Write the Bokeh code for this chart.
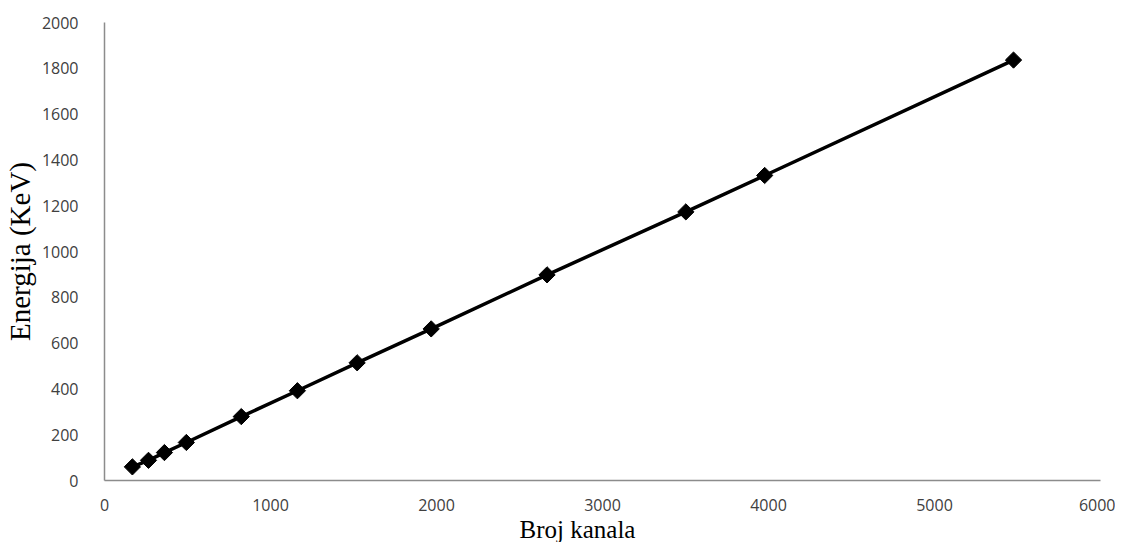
import math
from bokeh.plotting import figure
from bokeh.models import FixedTicker, Range1d, Title
from bokeh.embed import file_html
from bokeh.resources import INLINE

channels = [168, 265, 361, 493, 824, 1162, 1522, 1968, 2666, 3502, 3977, 5476]
energy = [59.5, 88, 122, 166, 279, 392, 514, 662, 898, 1173, 1332, 1836]
x_ticks = [0, 1000, 2000, 3000, 4000, 5000, 6000]
y_ticks = [0, 200, 400, 600, 800, 1000, 1200, 1400, 1600, 1800, 2000]

p = figure(width=1115, height=542, output_backend="svg", toolbar_location=None,
           x_range=Range1d(0, 6000), y_range=Range1d(0, 2000),
           min_border_left=103, min_border_right=15, min_border_top=22, min_border_bottom=0)
p.outline_line_color = None
p.grid.visible = False

for ax in (p.xaxis[0], p.yaxis[0]):
    ax.axis_line_color = "#8c8c8c"
    ax.axis_line_width = 1.5
    ax.major_tick_line_color = None
    ax.minor_tick_line_color = None
    ax.major_label_text_font = "Open Sans"
    ax.major_label_text_font_size = "16px"
    ax.major_label_text_color = "#404040"

p.xaxis.ticker = FixedTicker(ticks=x_ticks)
p.yaxis.ticker = FixedTicker(ticks=y_ticks)
p.xaxis.major_label_standoff = 12
p.yaxis.major_label_standoff = 20

p.yaxis.axis_label = "Energija (KeV)"
p.yaxis.axis_label_text_font = "Liberation Serif"
p.yaxis.axis_label_text_font_size = "29px"
p.yaxis.axis_label_text_font_style = "normal"
p.yaxis.axis_label_text_color = "#000000"
p.yaxis.axis_label_standoff = 3

p.line(channels, energy, line_color="black", line_width=3.5)
p.scatter(channels, energy, marker="square", angle=math.pi / 4, size=11.5,
          fill_color="black", line_color="black")

xt = Title(text="Broj kanala", align="left", offset=415, text_font="Liberation Serif",
           text_font_size="25px", text_font_style="normal", text_color="#000000",
           standoff=0)
p.add_layout(xt, "below")

open("out.html", "w").write(file_html(p, INLINE))
